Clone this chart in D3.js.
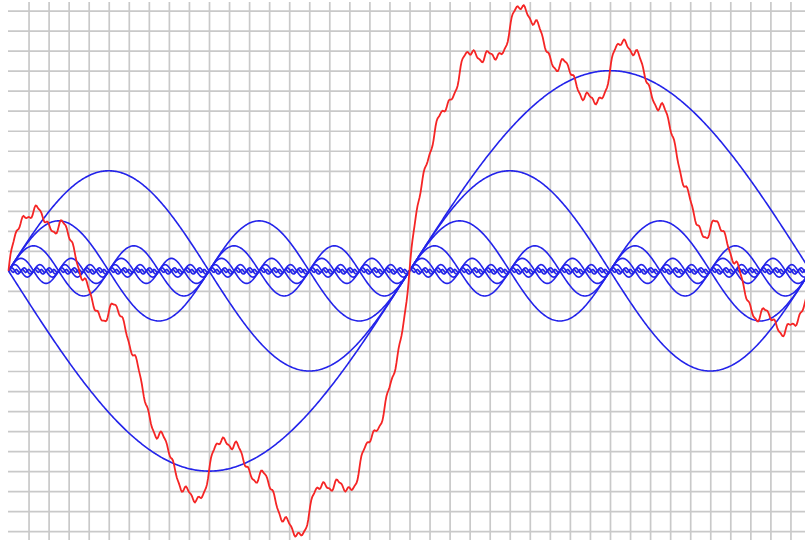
<!DOCTYPE html>
<html>
<head>
<meta charset="utf-8">
<script src="https://cdn.jsdelivr.net/npm/d3@7"></script>
<style>
html,body{margin:0;padding:0;background:#fff;}
</style>
</head>
<body>
<div id="chart"></div>
<script>
(function(){
"use strict"
//---Harmonics and their sum---

var width = 805,
	height = 540,

	//harmonic number (times the fundamental) and amplitude in grid cells
	harmonics = [1, 2, 4, 8, 16, 32, 64, 128],
	amps      = [-10, 5, 2.5, 1.25, 0.625, 0.3125, 0.156, 0.078],

	//grid lines, in grid cells / fractions of the period
	yTicks = d3.range(-13, 14),
	xTicks = d3.range(1, 41).map(function(k){return k/40;}),

	samples = 800;

var x = d3.scaleLinear().domain([0,1]).range([8.5,810.5]),
	y = d3.scaleLinear().domain([-13,13]).range([531.2,10.6]);

var svg = d3.select('#chart').append('svg')
	.attr('width',width)
	.attr('height',height)
	.style('display','block')
	.style('background','#fff');

//grid
var gx = svg.append('g')
	.attr('transform','translate(0,540)')
	.call(d3.axisBottom(x).tickValues(xTicks).tickSize(-538).tickFormat(''));
var gy = svg.append('g')
	.attr('transform','translate(8,0)')
	.call(d3.axisLeft(y).tickValues(yTicks).tickSize(-797).tickFormat(''));
svg.selectAll('.domain').remove();
svg.selectAll('.tick line')
	.attr('stroke','#c9c9c9')
	.attr('stroke-width',1.7);

var ts = d3.range(samples+1).map(function(i){return i/samples;});

var wave = function(k){
	return function(t){return amps[k]*Math.sin(2*Math.PI*harmonics[k]*t);};
};
var sum = function(t){
	var s = 0;
	for (var k=0; k<harmonics.length; k++){s+=wave(k)(t);}
	return s;
};

var line = d3.line()
	.x(function(d){return x(d[0]);})
	.y(function(d){return y(d[1]);});

//blue harmonics, smallest first
d3.range(harmonics.length-1,-1,-1).forEach(function(k){
	svg.append('path')
		.datum(ts.map(function(t){return [t, wave(k)(t)];}))
		.attr('d',line)
		.attr('fill','none')
		.attr('stroke','#2323ea')
		.attr('stroke-width',1.6);
});

//red sum
svg.append('path')
	.datum(ts.map(function(t){return [t, sum(t)];}))
	.attr('d',line)
	.attr('fill','none')
	.attr('stroke','#f52525')
	.attr('stroke-width',1.8);

})();
</script>
</body>
</html>
